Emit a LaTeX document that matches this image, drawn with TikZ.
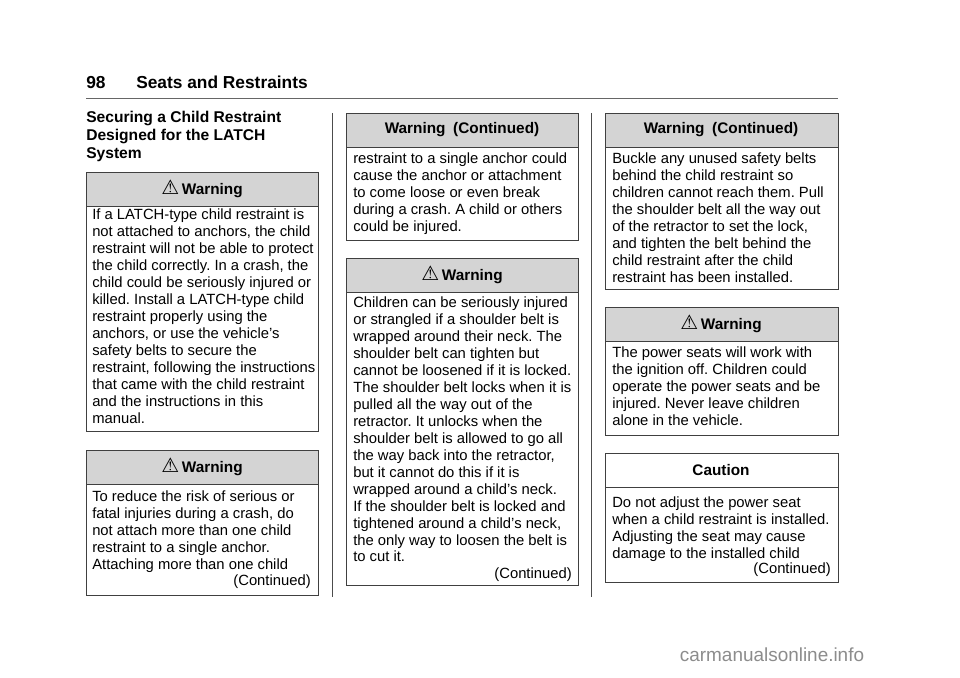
\documentclass[tikz,border=0pt]{standalone}
\usepackage{fontspec}
\setmainfont{Liberation Sans}
\newfontfamily\dejavu{DejaVu Sans}
\frenchspacing
\begin{document}
\begin{tikzpicture}[x=0.75pt,y=-0.75pt,
  boxframe/.style={draw=black!75,line width=0.6pt},
  hdrfill/.style={fill=black!17,draw=black!75,line width=0.6pt},
  hdr/.style={font=\fontsize{11.5}{13}\selectfont\bfseries,inner sep=0pt},
  body/.style={font=\fontsize{11.1}{12.7}\selectfont\frenchspacing,align=left,inner sep=0pt,anchor=north west},
  cont/.style={font=\fontsize{11.1}{12}\selectfont,inner sep=0pt,anchor=east}]
\useasboundingbox (0,0) rectangle (960,678);
\fill[white] (0,0) rectangle (960,678);
\newcommand{\wsym}{{\dejavu\fontsize{15}{15}\selectfont\char"26A0}\,}
% header
\node[anchor=base west,inner sep=0pt,font=\fontsize{13}{15}\selectfont\bfseries] (pn) at (86,88) {98};
\node[anchor=base west,inner sep=0pt,font=\fontsize{13}{15}\selectfont\bfseries] (pt) at (136,88) {Seats and Restraints};
\draw[black!60,line width=0.7pt] (86,98) -- (838,98);
\draw[black!70,line width=0.6pt] (332,113) -- (332,597);
\draw[black!70,line width=0.6pt] (591,113) -- (591,597);
\node[anchor=north west,align=left,inner sep=0pt,font=\fontsize{11.7}{13.5}\selectfont\bfseries] (h1) at (86,111) {Securing a Child Restraint\\Designed for the LATCH\\System};
% box1
\draw[hdrfill] (86,172) rectangle (318,206);
\draw[boxframe] (86,206) rectangle (318,431);
\node[hdr] (w1) at (202,189) {\wsym Warning};
\node[body] (b1) at (92,209) {If a LATCH-type child restraint is\\not attached to anchors, the child\\restraint will not be able to protect\\the child correctly. In a crash, the\\child could be seriously injured or\\killed. Install a LATCH-type child\\restraint properly using the\\anchors, or use the vehicle's\\safety belts to secure the\\restraint, following the instructions\\that came with the child restraint\\and the instructions in this\\manual.};
% box2
\draw[hdrfill] (86,450) rectangle (318,484);
\draw[boxframe] (86,484) rectangle (318,595);
\node[hdr] (w2) at (202,467) {\wsym Warning};
\node[body] (b2) at (92,491) {To reduce the risk of serious or\\fatal injuries during a crash, do\\not attach more than one child\\restraint to a single anchor.\\Attaching more than one child};
\node[cont] (c2) at (311,582) {(Continued)};
% box3
\draw[hdrfill] (346,113) rectangle (578,147);
\draw[boxframe] (346,147) rectangle (578,240);
\node[hdr] (w3) at (462,130) {Warning\enspace(Continued)};
\node[body] (b3) at (353,153) {restraint to a single anchor could\\cause the anchor or attachment\\to come loose or even break\\during a crash. A child or others\\could be injured.};
% box4
\draw[hdrfill] (346,258) rectangle (578,292);
\draw[boxframe] (346,292) rectangle (578,585);
\node[hdr] (w4) at (462,275) {\wsym Warning};
\node[body] (b4) at (353,297) {Children can be seriously injured\\or strangled if a shoulder belt is\\wrapped around their neck. The\\shoulder belt can tighten but\\cannot be loosened if it is locked.\\The shoulder belt locks when it is\\pulled all the way out of the\\retractor. It unlocks when the\\shoulder belt is allowed to go all\\the way back into the retractor,\\but it cannot do this if it is\\wrapped around a child’s neck.\\If the shoulder belt is locked and\\tightened around a child’s neck,\\the only way to loosen the belt is\\to cut it.};
\node[cont] (c4) at (572,575) {(Continued)};
% box5
\draw[hdrfill] (605,113) rectangle (838,147);
\draw[boxframe] (605,147) rectangle (838,289);
\node[hdr] (w5) at (721,130) {Warning\enspace(Continued)};
\node[body] (b5) at (612,153) {Buckle any unused safety belts\\behind the child restraint so\\children cannot reach them. Pull\\the shoulder belt all the way out\\of the retractor to set the lock,\\and tighten the belt behind the\\child restraint after the child\\restraint has been installed.};
% box6
\draw[hdrfill] (605,307) rectangle (838,341);
\draw[boxframe] (605,341) rectangle (838,435);
\node[hdr] (w6) at (721,324) {\wsym Warning};
\node[body] (b6) at (612,347) {The power seats will work with\\the ignition off. Children could\\operate the power seats and be\\injured. Never leave children\\alone in the vehicle.};
% box7
\draw[boxframe] (605,453) rectangle (838,487);
\draw[boxframe] (605,487) rectangle (838,582);
\node[hdr] (w7) at (721,470) {Caution};
\node[body] (b7) at (612,497) {Do not adjust the power seat\\when a child restraint is installed.\\Adjusting the seat may cause\\damage to the installed child};
\node[cont] (c7) at (831,570) {(Continued)};
% watermark
\node[inner sep=0pt,text=black!45,font=\fontsize{14.2}{16}\selectfont] (wm) at (772,655) {carmanualsonline.info};
\end{tikzpicture}
\end{document}
